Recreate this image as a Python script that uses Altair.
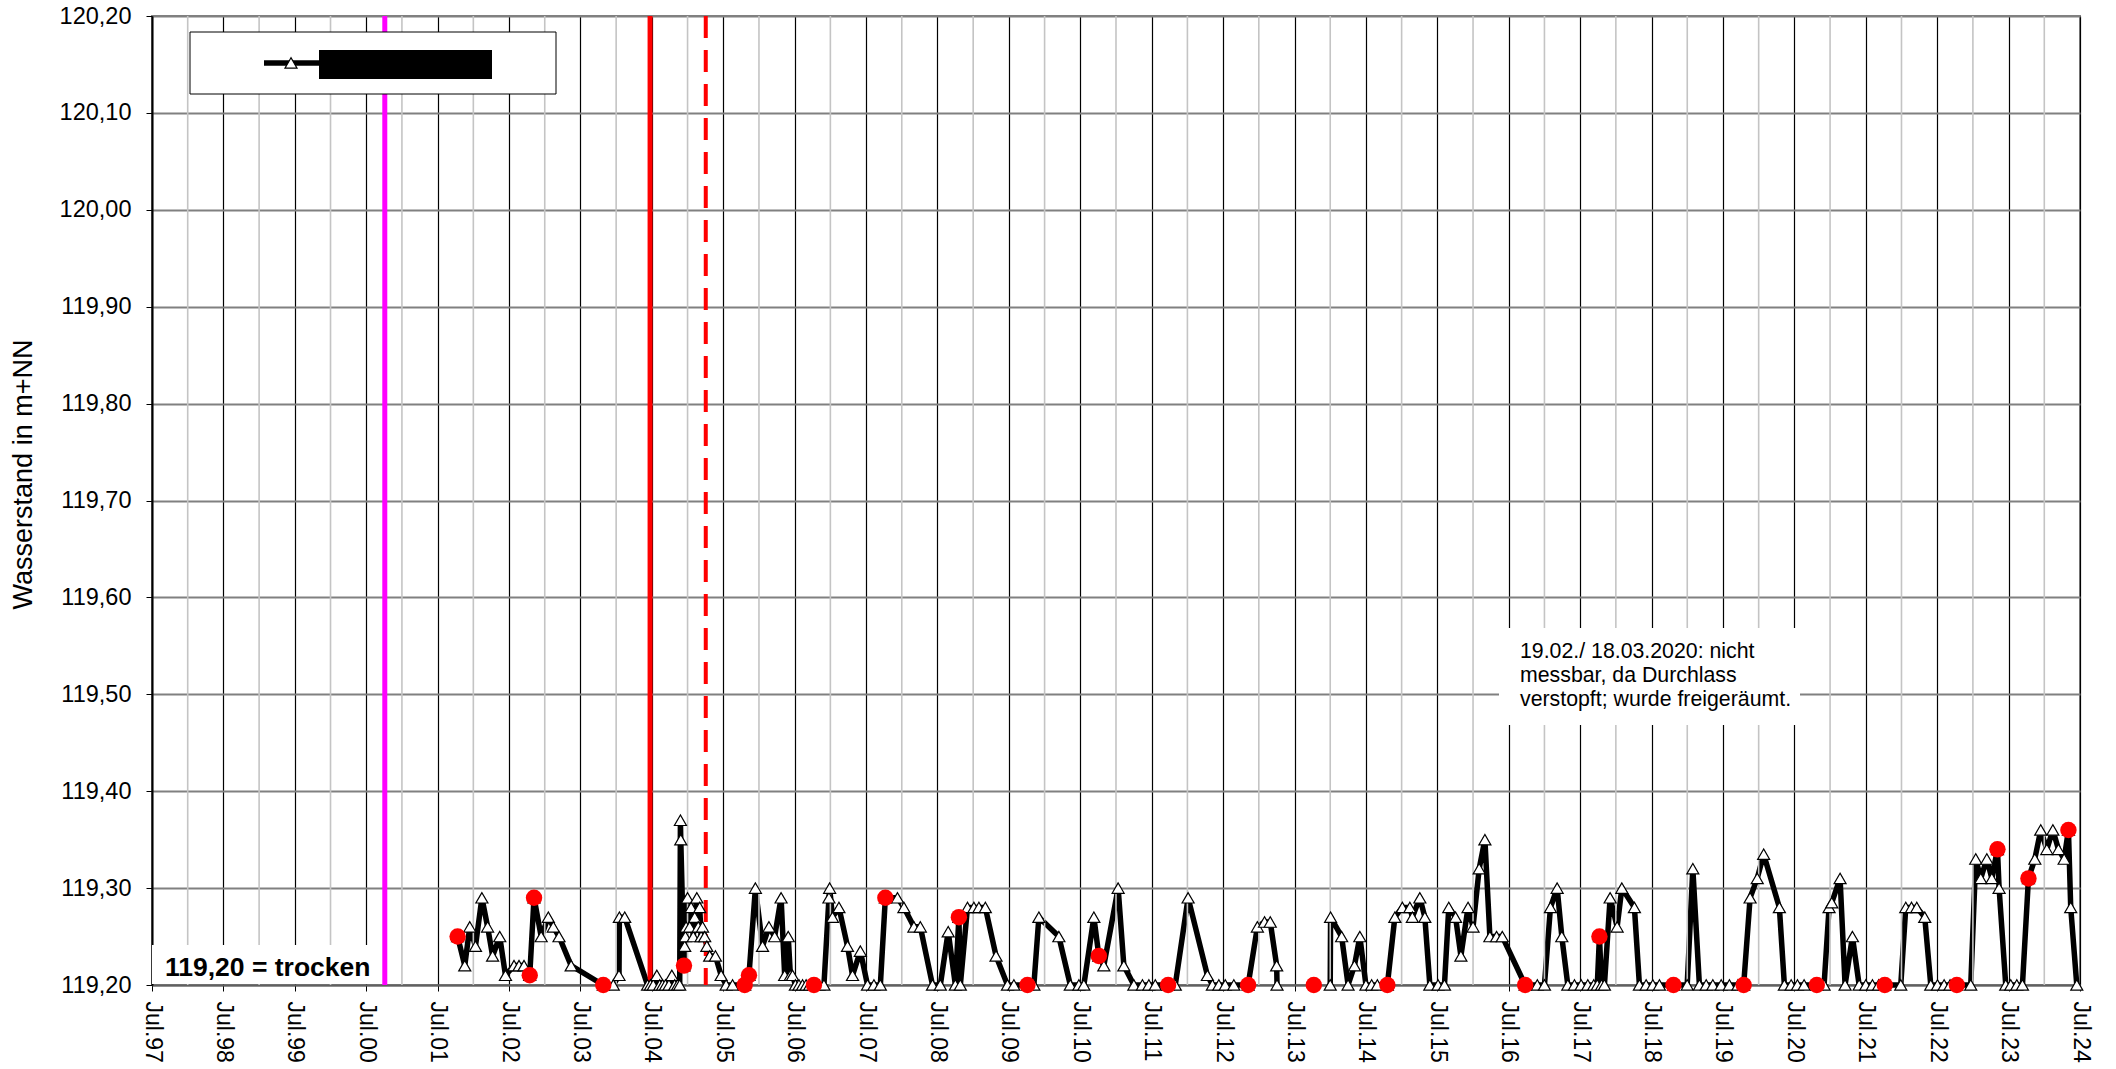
import altair as alt
import pandas as pd

# Pegelmessungen (Dezimaljahr, Wasserstand in m+NN), zwei zusammenhängende Messabschnitte
seg1_year = [
    2001.78, 2001.88, 2001.95, 2002.03, 2002.12, 2002.20, 2002.27, 2002.37, 2002.45, 2002.57,
    2002.64, 2002.71, 2002.79, 2002.85, 2002.95, 2003.05, 2003.12, 2003.20, 2003.37, 2003.82,
    2003.96, 2004.04, 2004.045, 2004.12, 2004.44, 2004.48, 2004.52, 2004.57, 2004.61, 2004.65,
    2004.69, 2004.74, 2004.78, 2004.82, 2004.86, 2004.89, 2004.90, 2004.905, 2004.95, 2004.96,
    2004.97, 2004.98, 2005.00, 2005.03, 2005.05, 2005.08, 2005.10, 2005.13, 2005.15, 2005.17,
    2005.19, 2005.21, 2005.24, 2005.27, 2005.31, 2005.39, 2005.47, 2005.54, 2005.63, 2005.80,
    2005.86, 2005.95, 2006.05, 2006.14, 2006.22, 2006.31, 2006.36, 2006.41, 2006.44, 2006.47,
    2006.51, 2006.56, 2006.61, 2006.66, 2006.71, 2006.77, 2006.84, 2006.91, 2006.98, 2006.99,
    2007.03, 2007.12, 2007.24, 2007.31, 2007.42, 2007.52, 2007.61, 2007.70, 2007.77, 2007.94,
    2008.03, 2008.17, 2008.26, 2008.43, 2008.54, 2008.65, 2008.75, 2008.80, 2008.82, 2008.92,
    2009.01, 2009.08, 2009.17, 2009.32, 2009.48, 2009.57, 2009.76, 2009.85, 2009.92, 2010.20,
    2010.36, 2010.48, 2010.55, 2010.69, 2010.76, 2010.83, 2011.03, 2011.11, 2011.25, 2011.37,
    2011.46, 2011.55, 2011.73, 2011.83, 2012.01, 2012.28, 2012.35, 2012.44, 2012.53, 2012.65,
    2012.85, 2012.98, 2013.08, 2013.16, 2013.25, 2013.255,
]
seg1_level = [
    119.25, 119.22, 119.26, 119.24, 119.29, 119.26, 119.23, 119.25, 119.21, 119.22,
    119.22, 119.22, 119.21, 119.29, 119.25, 119.27, 119.26, 119.25, 119.22, 119.20,
    119.20, 119.21, 119.27, 119.27, 119.20, 119.20, 119.20, 119.21, 119.20, 119.20,
    119.20, 119.20, 119.21, 119.20, 119.20, 119.20, 119.37, 119.35, 119.22, 119.24,
    119.25, 119.26, 119.29, 119.26, 119.28, 119.25, 119.27, 119.29, 119.26, 119.28,
    119.25, 119.26, 119.25, 119.24, 119.23, 119.23, 119.21, 119.20, 119.20, 119.20,
    119.21, 119.30, 119.24, 119.26, 119.25, 119.29, 119.21, 119.25, 119.21, 119.21,
    119.20, 119.20, 119.20, 119.20, 119.20, 119.20, 119.20, 119.20, 119.29, 119.30,
    119.27, 119.28, 119.24, 119.21, 119.235, 119.20, 119.20, 119.20, 119.29, 119.29,
    119.28, 119.26, 119.26, 119.20, 119.20, 119.255, 119.20, 119.27, 119.20, 119.28,
    119.28, 119.28, 119.28, 119.23, 119.20, 119.20, 119.20, 119.20, 119.27, 119.25,
    119.20, 119.20, 119.20, 119.27, 119.23, 119.22, 119.30, 119.22, 119.20, 119.20,
    119.20, 119.20, 119.20, 119.20, 119.29, 119.21, 119.20, 119.20, 119.20, 119.20,
    119.20, 119.26, 119.265, 119.265, 119.22, 119.20,
]
seg2_year = [
    2014.00, 2014.005, 2014.16, 2014.25, 2014.34, 2014.415, 2014.50, 2014.58, 2014.66, 2014.80,
    2014.905, 2015.01, 2015.115, 2015.15, 2015.255, 2015.325, 2015.395, 2015.51, 2015.60, 2015.66,
    2015.755, 2015.83, 2015.93, 2016.00, 2016.086, 2016.166, 2016.236, 2016.33, 2016.41, 2016.73,
    2016.90, 2017.00, 2017.084, 2017.178, 2017.243, 2017.327, 2017.42, 2017.514, 2017.607, 2017.69,
    2017.74, 2017.77, 2017.80, 2017.84, 2017.92, 2018.018, 2018.084, 2018.26, 2018.33, 2018.424,
    2018.518, 2018.61, 2018.807, 2018.999, 2019.078, 2019.17, 2019.265, 2019.358, 2019.475, 2019.59,
    2019.71, 2019.79, 2019.88, 2019.98, 2020.07, 2020.29, 2020.36, 2020.455, 2020.543, 2020.636,
    2020.814, 2020.916, 2020.986, 2021.024, 2021.14, 2021.21, 2021.313, 2021.407, 2021.50, 2021.593,
    2021.68, 2021.766, 2021.99, 2022.06, 2022.14, 2022.214, 2022.326, 2022.41, 2022.504, 2022.597,
    2022.68, 2022.775, 2022.97, 2023.04, 2023.11, 2023.195, 2023.265, 2023.344, 2023.367, 2023.46,
    2023.53, 2023.615, 2023.694, 2023.778, 2023.867, 2023.95, 2024.035, 2024.12, 2024.198, 2024.278,
    2024.338, 2024.37, 2024.455,
]
seg2_level = [
    119.20, 119.27, 119.25, 119.20, 119.22, 119.25, 119.20, 119.20, 119.20, 119.20,
    119.27, 119.28, 119.28, 119.27, 119.29, 119.27, 119.20, 119.20, 119.20, 119.28,
    119.27, 119.23, 119.28, 119.26, 119.32, 119.35, 119.25, 119.25, 119.25, 119.20,
    119.20, 119.20, 119.28, 119.30, 119.25, 119.20, 119.20, 119.20, 119.20, 119.20,
    119.20, 119.25, 119.20, 119.20, 119.29, 119.26, 119.30, 119.28, 119.20, 119.20,
    119.20, 119.20, 119.20, 119.20, 119.32, 119.20, 119.20, 119.20, 119.20, 119.20,
    119.20, 119.20, 119.29, 119.31, 119.335, 119.28, 119.20, 119.20, 119.20, 119.20,
    119.20, 119.20, 119.28, 119.285, 119.31, 119.20, 119.25, 119.20, 119.20, 119.20,
    119.20, 119.20, 119.20, 119.28, 119.28, 119.28, 119.27, 119.20, 119.20, 119.20,
    119.20, 119.20, 119.20, 119.33, 119.31, 119.33, 119.31, 119.34, 119.30, 119.20,
    119.20, 119.20, 119.20, 119.31, 119.33, 119.36, 119.34, 119.36, 119.34, 119.33,
    119.36, 119.28, 119.20,
]

# Einzelmessungen (rote Punkte)
dot_year = [
    2001.78, 2002.79, 2002.85, 2003.82, 2004.95, 2005.80, 2005.86, 2006.77, 2007.77, 2008.80,
    2009.76, 2010.76, 2011.73, 2012.85, 2013.77, 2014.80, 2016.73, 2017.77, 2018.807, 2019.79,
    2020.814, 2021.766, 2022.775, 2023.344, 2023.778, 2024.338,
]
dot_level = [
    119.25, 119.21, 119.29, 119.20, 119.22, 119.20, 119.21, 119.20, 119.29, 119.27,
    119.20, 119.23, 119.20, 119.20, 119.20, 119.20, 119.20, 119.25, 119.20, 119.20,
    119.20, 119.20, 119.20, 119.34, 119.31, 119.36,
]

# Achsen und Markierungen
jul_ticks = [y + 0.5 for y in range(1997, 2025)]
jan_lines = list(range(1998, 2025))
level_ticks = [round(119.2 + 0.1 * i, 1) for i in range(11)]
magenta_line = [2000.76]
red_line = [2004.475]
red_dashed_line = [2005.255]

note_text = "19.02./ 18.03.2020: nicht\nmessbar, da Durchlass\nverstopft; wurde freigeräumt."
dry_text = "119,20 = trocken"

W, H = 1928, 969
FONT = "Liberation Sans"

series = pd.DataFrame({
    "jahr": seg1_year + seg2_year,
    "stand": seg1_level + seg2_level,
    "abschnitt": [1] * len(seg1_year) + [2] * len(seg2_year),
})
dots = pd.DataFrame({"jahr": dot_year, "stand": dot_level})
one = pd.DataFrame({"k": [0]})

x_scale = alt.Scale(domain=[1997.5, 2024.5], nice=False, zero=False)
y_scale = alt.Scale(domain=[119.2, 120.2], nice=False, zero=False)

x_axis = alt.Axis(
    values=jul_ticks,
    labelExpr="'Jul.' + substring(toString(floor(datum.value)), 2, 4)",
    labelAngle=90, labelFont=FONT, labelFontSize=23, labelColor="black",
    labelPadding=10, labelFlush=False, labelOverlap=False,
    tickColor="black", tickSize=6, tickWidth=1,
    grid=True, gridColor="#000000", gridWidth=1.2,
    domainColor="#606060", domainWidth=2, title=None,
)
y_axis = alt.Axis(
    values=level_ticks,
    labelExpr="replace(format(datum.value, '.2f'), '.', ',')",
    labelFont=FONT, labelFontSize=23.5, labelColor="black", labelPadding=15,
    tickColor="black", tickSize=6, tickWidth=1,
    grid=True, gridColor="#808080", gridWidth=2,
    domainColor="black", domainWidth=2,
    title="Wasserstand in m+NN", titleFont=FONT, titleFontSize=27,
    titleFontWeight="normal", titleColor="black", titleAngle=270,
    titleBaseline="middle", titleX=-129, titleY=458,
)

X = alt.X("jahr:Q", scale=x_scale, axis=x_axis)
Y = alt.Y("stand:Q", scale=y_scale, axis=y_axis)

# halbjährliche Hilfslinien (Januar)
jan_grid = alt.Chart(pd.DataFrame({"jahr": jan_lines})).mark_rule(
    color="#c4c4c4", strokeWidth=1.6
).encode(x=X)

dry_box = alt.Chart(one).mark_rect(color="white").encode(
    x=alt.value(0), x2=alt.value(226), y=alt.value(929), y2=alt.value(968)
)
note_box = alt.Chart(one).mark_rect(color="white").encode(
    x=alt.value(1347), x2=alt.value(1648), y=alt.value(612), y2=alt.value(709)
)

magenta = alt.Chart(pd.DataFrame({"jahr": magenta_line})).mark_rule(
    color="#ff00ff", strokeWidth=5
).encode(x=X)
red_solid = alt.Chart(pd.DataFrame({"jahr": red_line})).mark_rule(
    color="#ff0000", strokeWidth=5
).encode(x=X)
red_dashed = alt.Chart(pd.DataFrame({"jahr": red_dashed_line})).mark_rule(
    color="#ff0000", strokeWidth=4, strokeDash=[22, 12]
).encode(x=X)

line = alt.Chart(series).mark_line(
    color="black", strokeWidth=5.5, strokeJoin="round"
).encode(x=X, y=Y, detail="abschnitt:N")

markers = alt.Chart(series).mark_point(
    shape="triangle-up", filled=True, fill="white", stroke="black",
    strokeWidth=1.2, size=145, opacity=1
).encode(x=X, y=Y)

red_dots = alt.Chart(dots).mark_circle(color="#ff0000", size=270, opacity=1).encode(
    x=X, y=Y
)

legend_box = alt.Chart(one).mark_rect(fill="white", stroke="black", strokeWidth=1).encode(
    x=alt.value(38), x2=alt.value(404), y=alt.value(16), y2=alt.value(78)
)
legend_line = alt.Chart(one).mark_rule(color="black", strokeWidth=5.5).encode(
    x=alt.value(112), x2=alt.value(167), y=alt.value(47)
)
legend_marker = alt.Chart(one).mark_point(
    shape="triangle-up", filled=True, fill="white", stroke="black",
    strokeWidth=1.2, size=145, opacity=1
).encode(x=alt.value(139), y=alt.value(47))
legend_label = alt.Chart(one).mark_rect(color="black").encode(
    x=alt.value(167), x2=alt.value(340), y=alt.value(34), y2=alt.value(63)
)

dry_label = alt.Chart(one).mark_text(
    align="left", baseline="alphabetic", font=FONT, fontSize=26.5,
    fontWeight="bold", color="black"
).encode(x=alt.value(13), y=alt.value(960), text=alt.value(dry_text))

note_label = alt.Chart(one).mark_text(
    align="left", baseline="alphabetic", font=FONT, fontSize=21.3,
    color="black", lineBreak="\n", lineHeight=24
).encode(x=alt.value(1368), y=alt.value(642), text=alt.value(note_text))

chart = alt.layer(
    line, jan_grid, dry_box, note_box, magenta, red_solid, red_dashed,
    markers, red_dots, legend_box, legend_line, legend_marker, legend_label,
    dry_label, note_label,
).properties(
    width=W, height=H,
    autosize=alt.AutoSizeParams(type="none"),
    padding={"left": 152, "top": 16, "right": 36, "bottom": 84},
    background="white",
).configure_view(stroke="#808080", strokeWidth=2)

chart.save("out.html", embed_options={"renderer": "svg", "actions": False})
